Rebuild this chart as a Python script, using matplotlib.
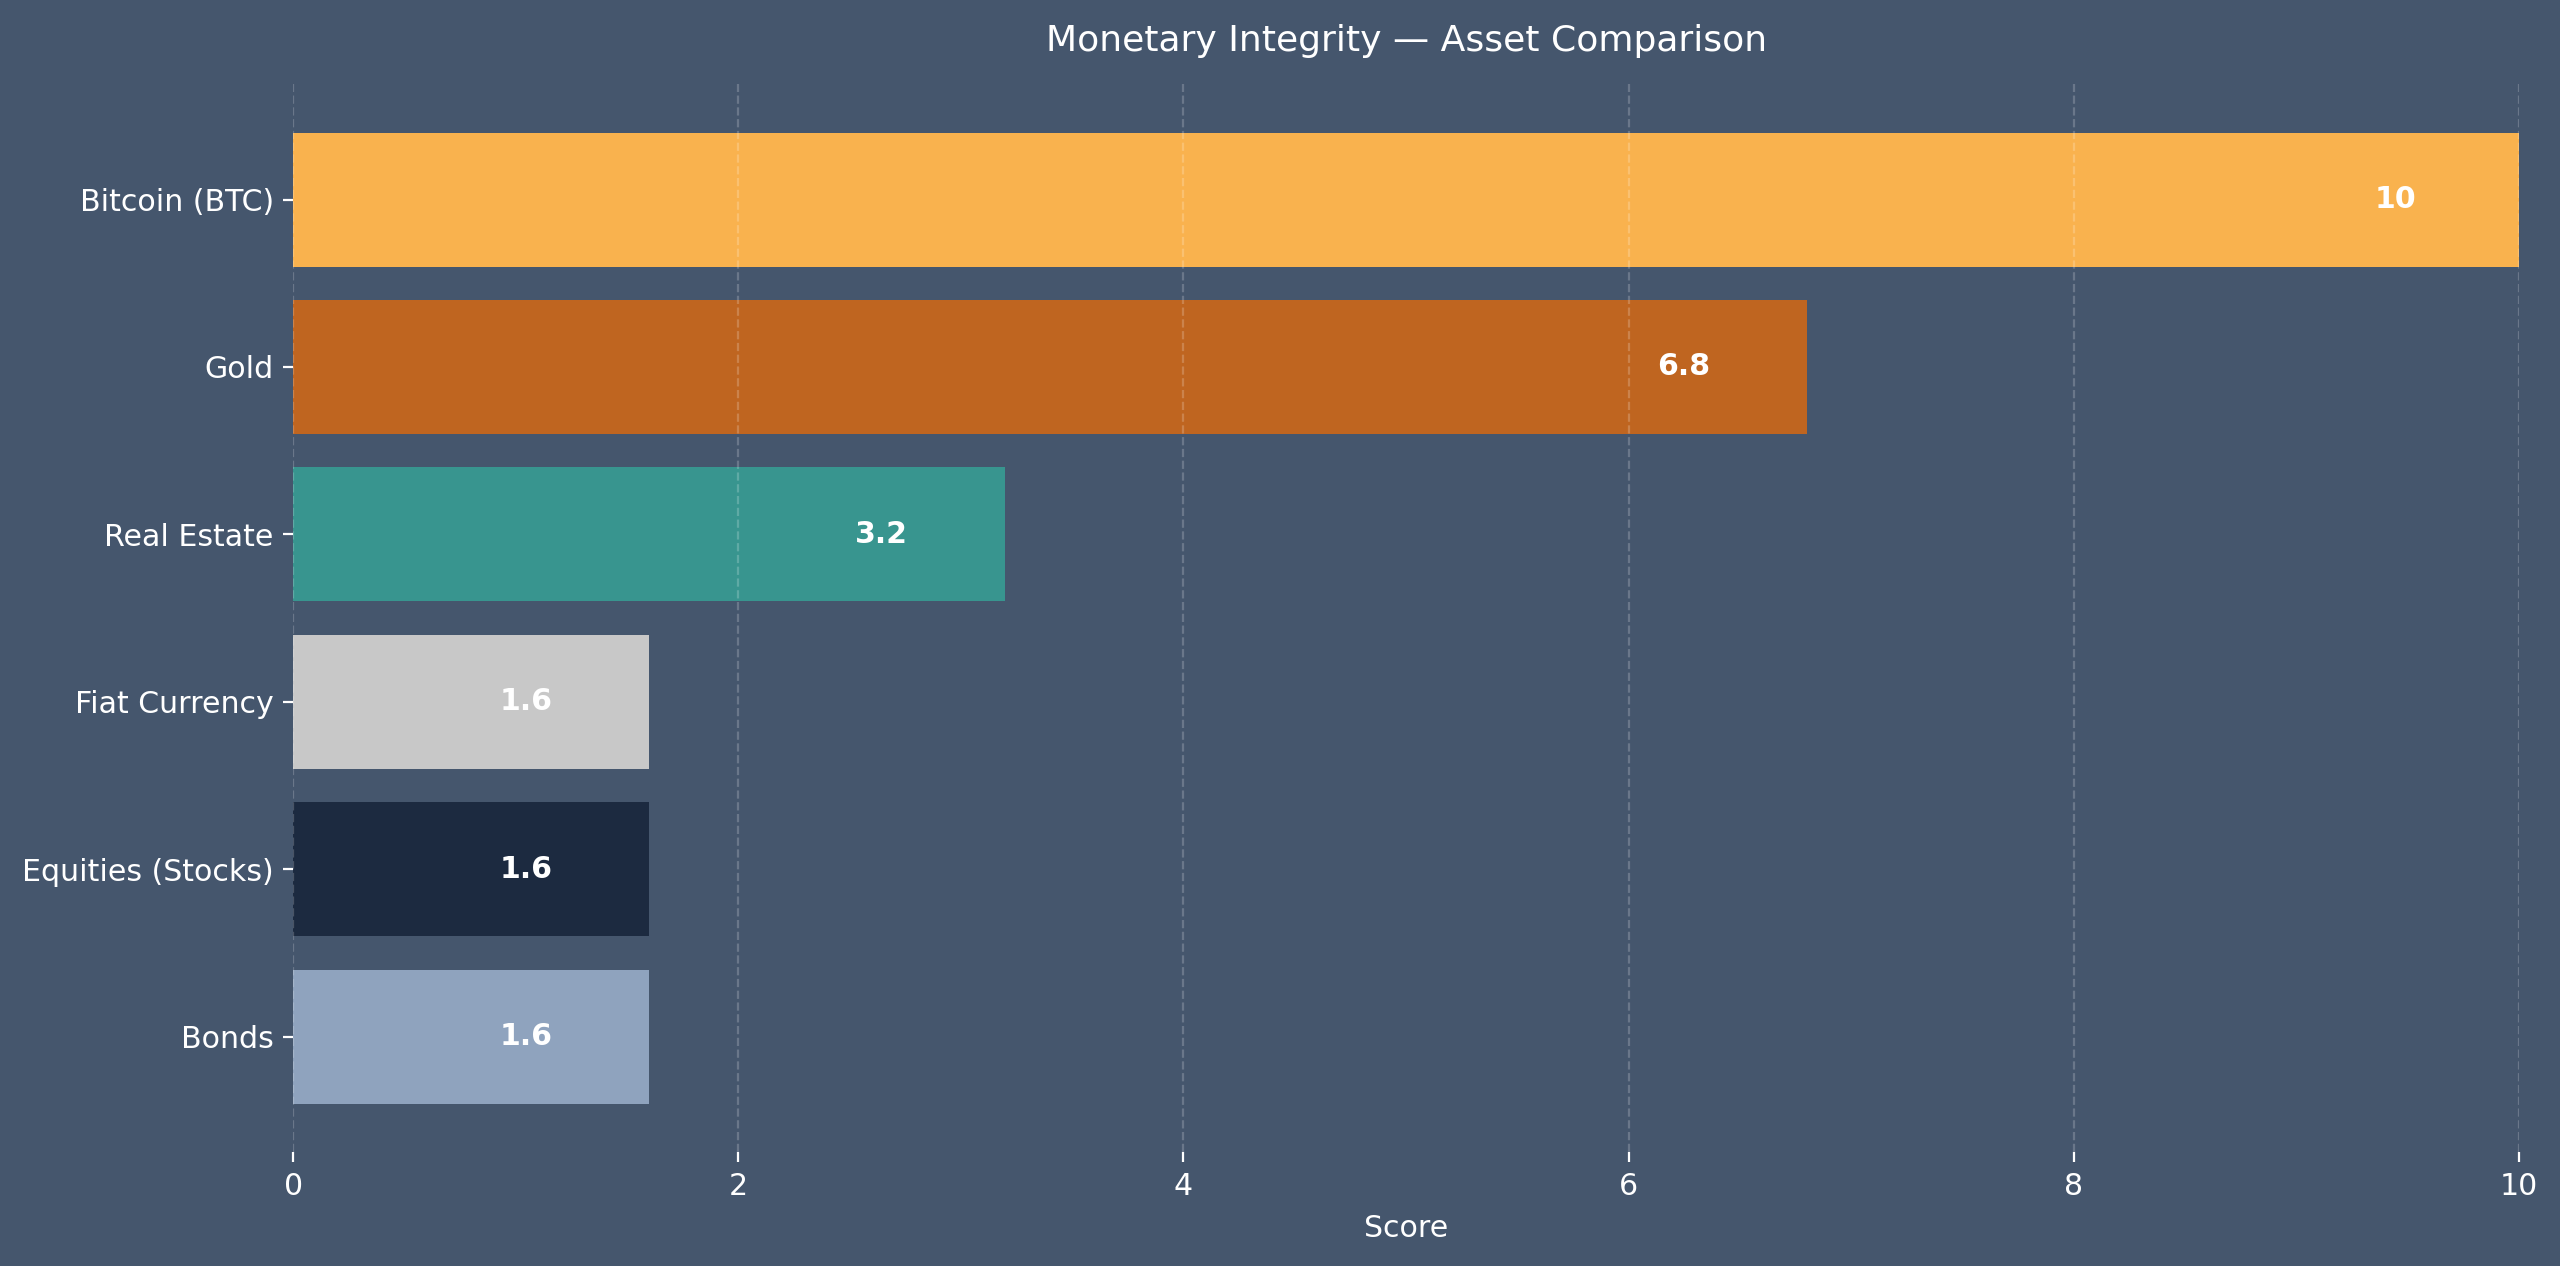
import matplotlib
matplotlib.use("Agg")
import matplotlib.pyplot as plt

assets = ["Bitcoin (BTC)", "Gold", "Real Estate", "Fiat Currency", "Equities (Stocks)", "Bonds"]
scores = [10, 6.8, 3.2, 1.6, 1.6, 1.6]
bar_colors = ["#F9B24E", "#BF6520", "#38958F", "#C8C8C8", "#1C2A40", "#8FA3BE"]
xticks = [0, 2, 4, 6, 8, 10]

bg = "#45566D"

fig = plt.figure(figsize=(12.8, 6.33), dpi=200, facecolor=bg)
ax = fig.add_axes([0.1145, 0.090, 0.8695, 0.8436])
ax.set_facecolor(bg)

ypos = list(range(len(assets)))
ax.barh(ypos, scores, height=0.8, color=bar_colors)
ax.set_yticks(ypos)
ax.set_yticklabels(assets)
ax.invert_yaxis()
ax.set_xlim(0, 10)
ax.set_xticks(xticks)

# value labels sit just inside the end of each bar
for y, v in zip(ypos, scores):
    ax.text(v - 0.555, y, f"{v:g}", ha="center", va="center",
            color="white", fontsize=10.8, fontweight="bold")

ax.grid(axis="x", linestyle="--", color="white", alpha=0.2, linewidth=0.8)
ax.grid(axis="y", visible=False)
for s in ax.spines.values():
    s.set_visible(False)

ax.tick_params(colors="white", labelsize=10.8)
ax.set_xlabel("Score", color="white", fontsize=10.8, labelpad=5)
ax.set_title("Monetary Integrity \u2014 Asset Comparison", color="white", fontsize=13, pad=12)

fig.savefig("out.png", dpi=200, facecolor=bg)
